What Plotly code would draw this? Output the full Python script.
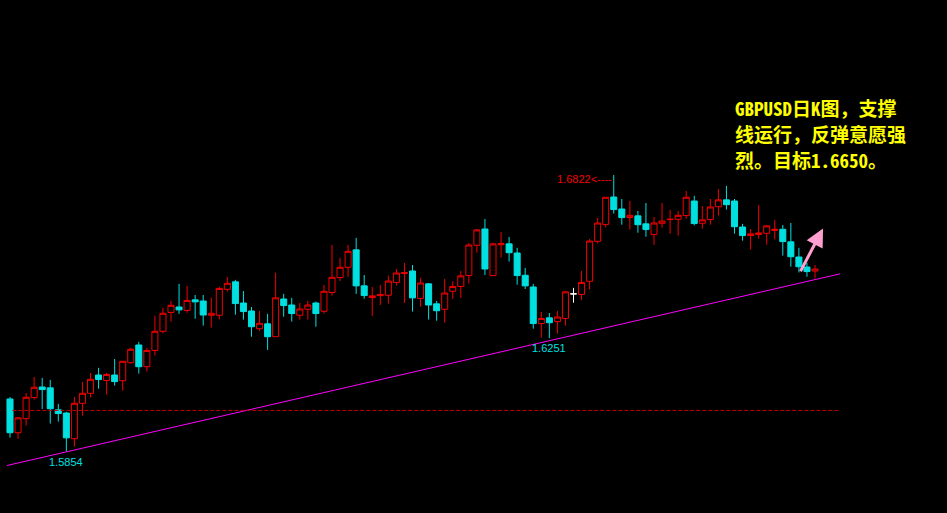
import plotly.graph_objects as go

# ---- data (GBPUSD daily candles) ----
bar_index = list(range(1, 102))
open_ = [1.6038, 1.5920, 1.5969, 1.6043, 1.6080, 1.6077, 1.6000, 1.5989, 1.5899, 1.6023,
         1.6058, 1.6122, 1.6103, 1.6122, 1.6102, 1.6165, 1.6227, 1.6151, 1.6208, 1.6275,
         1.6341, 1.6360, 1.6348, 1.6385, 1.6381, 1.6331, 1.6331, 1.6422, 1.6448, 1.6374,
         1.6346, 1.6284, 1.6301, 1.6256, 1.6388, 1.6367, 1.6331, 1.6352, 1.6374, 1.6345,
         1.6411, 1.6463, 1.6499, 1.6560, 1.6434, 1.6393, 1.6400, 1.6401, 1.6446, 1.6477,
         1.6486, 1.6390, 1.6441, 1.6371, 1.6352, 1.6415, 1.6432, 1.6470, 1.6576, 1.6633,
         1.6470, 1.6578, 1.6581, 1.6549, 1.6471, 1.6430, 1.6302, 1.6322, 1.6309, 1.6320,
         1.6406, 1.6404, 1.6450, 1.6590, 1.6649, 1.6745, 1.6703, 1.6673, 1.6679, 1.6651,
         1.6614, 1.6653, 1.6666, 1.6667, 1.6680, 1.6731, 1.6653, 1.6666, 1.6711, 1.6735,
         1.6731, 1.6640, 1.6610, 1.6614, 1.6618, 1.6628, 1.6632, 1.6588, 1.6535, 1.6500,
         1.6486]
high = [1.6045, 1.5975, 1.6059, 1.6115, 1.6112, 1.6105, 1.6021, 1.5993, 1.6045, 1.6098,
        1.6129, 1.6147, 1.6129, 1.6178, 1.6171, 1.6217, 1.6238, 1.6217, 1.6329, 1.6357,
        1.6381, 1.6441, 1.6434, 1.6402, 1.6402, 1.6393, 1.6431, 1.6465, 1.6455, 1.6416,
        1.6360, 1.6346, 1.6336, 1.6480, 1.6406, 1.6392, 1.6374, 1.6382, 1.6379, 1.6437,
        1.6577, 1.6532, 1.6577, 1.6602, 1.6472, 1.6430, 1.6437, 1.6470, 1.6493, 1.6514,
        1.6507, 1.6462, 1.6444, 1.6381, 1.6458, 1.6451, 1.6486, 1.6584, 1.6633, 1.6668,
        1.6584, 1.6623, 1.6605, 1.6567, 1.6497, 1.6441, 1.6343, 1.6339, 1.6346, 1.6416,
        1.6427, 1.6486, 1.6598, 1.6672, 1.6744, 1.6822, 1.6738, 1.6731, 1.6696, 1.6724,
        1.6675, 1.6724, 1.6700, 1.6696, 1.6766, 1.6749, 1.6714, 1.6738, 1.6773, 1.6784,
        1.6738, 1.6651, 1.6633, 1.6717, 1.6647, 1.6665, 1.6647, 1.6654, 1.6567, 1.6515,
        1.6507]
low = [1.5903, 1.5899, 1.5945, 1.6036, 1.6003, 1.5952, 1.5959, 1.5854, 1.5871, 1.5980,
       1.6043, 1.6074, 1.6053, 1.6085, 1.6067, 1.6162, 1.6127, 1.6134, 1.6190, 1.6268,
       1.6309, 1.6336, 1.6340, 1.6319, 1.6295, 1.6288, 1.6317, 1.6414, 1.6333, 1.6316,
       1.6256, 1.6277, 1.6210, 1.6256, 1.6326, 1.6309, 1.6316, 1.6316, 1.6291, 1.6337,
       1.6400, 1.6451, 1.6466, 1.6406, 1.6389, 1.6329, 1.6367, 1.6372, 1.6435, 1.6374,
       1.6344, 1.6361, 1.6316, 1.6312, 1.6305, 1.6388, 1.6392, 1.6442, 1.6550, 1.6472,
       1.6470, 1.6533, 1.6519, 1.6438, 1.6423, 1.6284, 1.6253, 1.6251, 1.6267, 1.6295,
       1.6375, 1.6385, 1.6421, 1.6583, 1.6639, 1.6687, 1.6648, 1.6631, 1.6620, 1.6606,
       1.6578, 1.6638, 1.6617, 1.6610, 1.6669, 1.6646, 1.6634, 1.6648, 1.6680, 1.6701,
       1.6617, 1.6592, 1.6561, 1.6599, 1.6578, 1.6596, 1.6540, 1.6501, 1.6481, 1.6466,
       1.6460]
close = [1.5920, 1.5972, 1.6044, 1.6079, 1.6071, 1.6004, 1.5987, 1.5902, 1.6023, 1.6058,
         1.6107, 1.6106, 1.6124, 1.6099, 1.6170, 1.6212, 1.6151, 1.6208, 1.6275, 1.6338,
         1.6366, 1.6350, 1.6383, 1.6378, 1.6332, 1.6338, 1.6425, 1.6443, 1.6372, 1.6344,
         1.6291, 1.6303, 1.6256, 1.6392, 1.6365, 1.6337, 1.6353, 1.6367, 1.6337, 1.6415,
         1.6464, 1.6499, 1.6555, 1.6434, 1.6400, 1.6399, 1.6403, 1.6451, 1.6479, 1.6480,
         1.6392, 1.6444, 1.6367, 1.6347, 1.6409, 1.6432, 1.6469, 1.6577, 1.6630, 1.6493,
         1.6581, 1.6582, 1.6550, 1.6470, 1.6434, 1.6302, 1.6320, 1.6305, 1.6325, 1.6413,
         1.6406, 1.6446, 1.6591, 1.6654, 1.6744, 1.6701, 1.6673, 1.6681, 1.6648, 1.6631,
         1.6654, 1.6661, 1.6667, 1.6681, 1.6744, 1.6652, 1.6665, 1.6710, 1.6735, 1.6718,
         1.6641, 1.6610, 1.6616, 1.6619, 1.6644, 1.6632, 1.6589, 1.6536, 1.6501, 1.6484,
         1.6493]

doji_bars = [71]                       # drawn in white
support_x = [0.6, 104.1]               # trend support line
support_y = [1.5805, 1.6476]
level_price = 1.5998                   # dashed red level
level_span = [1.3, 103.9]
high_mark = (76, 1.6822)
low_marks = [(68, 1.6251), (8, 1.5854)]
target_arrow = {"from": (99.1, 1.6480), "to": (102.0, 1.6635)}
note_lines = ["GBPUSD日K图，支撑", "线运行，反弹意愿强", "烈。目标1.6650。"]

RED = "#F20000"
CYAN = "#00E0E0"

main = [i for i, b in enumerate(bar_index) if b not in doji_bars]
dj = [i for i, b in enumerate(bar_index) if b in doji_bars]


def pick(arr, idx):
    return [arr[i] for i in idx]


fig = go.Figure()
fig.add_trace(go.Candlestick(
    x=pick(bar_index, main), open=pick(open_, main), high=pick(high, main),
    low=pick(low, main), close=pick(close, main),
    increasing=dict(line=dict(color=RED, width=1), fillcolor="#000000"),
    decreasing=dict(line=dict(color=CYAN, width=1), fillcolor=CYAN),
    whiskerwidth=0, showlegend=False, hoverinfo="skip"))
fig.add_trace(go.Candlestick(
    x=pick(bar_index, dj), open=pick(open_, dj), high=pick(high, dj),
    low=pick(low, dj), close=pick(close, dj),
    increasing=dict(line=dict(color="#FFFFFF", width=1), fillcolor="#FFFFFF"),
    decreasing=dict(line=dict(color="#FFFFFF", width=1), fillcolor="#FFFFFF"),
    whiskerwidth=0, showlegend=False, hoverinfo="skip"))

# support trend line
fig.add_trace(go.Scatter(x=support_x, y=support_y, mode="lines",
                         line=dict(color="#FF00FF", width=1),
                         showlegend=False, hoverinfo="skip"))
# dashed level
fig.add_trace(go.Scatter(x=level_span, y=[level_price, level_price], mode="lines",
                         line=dict(color="#C00000", width=1, dash="4px,2px"),
                         showlegend=False, hoverinfo="skip"))

# labels
fig.add_annotation(x=high_mark[0], y=high_mark[1], text=f"{high_mark[1]:.4f}&lt;----",
                   showarrow=False, xanchor="right", yanchor="middle", xshift=0, yshift=-4,
                   font=dict(family="Liberation Sans, Arial", size=11, color=RED))
for bx, val in low_marks:
    fig.add_annotation(x=bx, y=val, text=f"{val:.4f}", showarrow=False,
                       xanchor="center", yanchor="top", yshift=-2,
                       font=dict(family="Liberation Sans, Arial", size=11, color=CYAN))

fig.add_annotation(x=target_arrow["to"][0], y=target_arrow["to"][1],
                   ax=target_arrow["from"][0], ay=target_arrow["from"][1],
                   axref="x", ayref="y", xref="x", yref="y", text="",
                   showarrow=True, arrowhead=2, arrowsize=1.2, arrowwidth=3,
                   arrowcolor="#FF9FCF")

line_tops = [93, 119, 145]
for txt, top in zip(note_lines, line_tops):
    fig.add_annotation(x=734 / 947, y=1 - top / 513, xref="paper", yref="paper",
                       xanchor="left", yanchor="top", align="left", showarrow=False,
                       text=txt, borderpad=0,
                       font=dict(family="Noto Sans Mono CJK SC, Noto Sans CJK SC", size=19,
                                 color="#FFFF00", weight="bold"))

fig.update_layout(
    width=947, height=513, margin=dict(l=0, r=0, t=0, b=0),
    paper_bgcolor="#000000", plot_bgcolor="#000000",
    boxgap=0.25, boxgroupgap=0,
    xaxis=dict(visible=False, range=[1 - 10 / 8.05, 1 + 937 / 8.05],
               rangeslider=dict(visible=False), showgrid=False, zeroline=False),
    yaxis=dict(visible=False, range=[1.74345 - 0.00035 * 513, 1.74345],
               showgrid=False, zeroline=False),
)

fig.write_html("out.html", config={"displayModeBar": False},
               post_script="document.body.style.margin='0';document.body.style.padding='0';"
                           "document.body.style.background='#000';")
